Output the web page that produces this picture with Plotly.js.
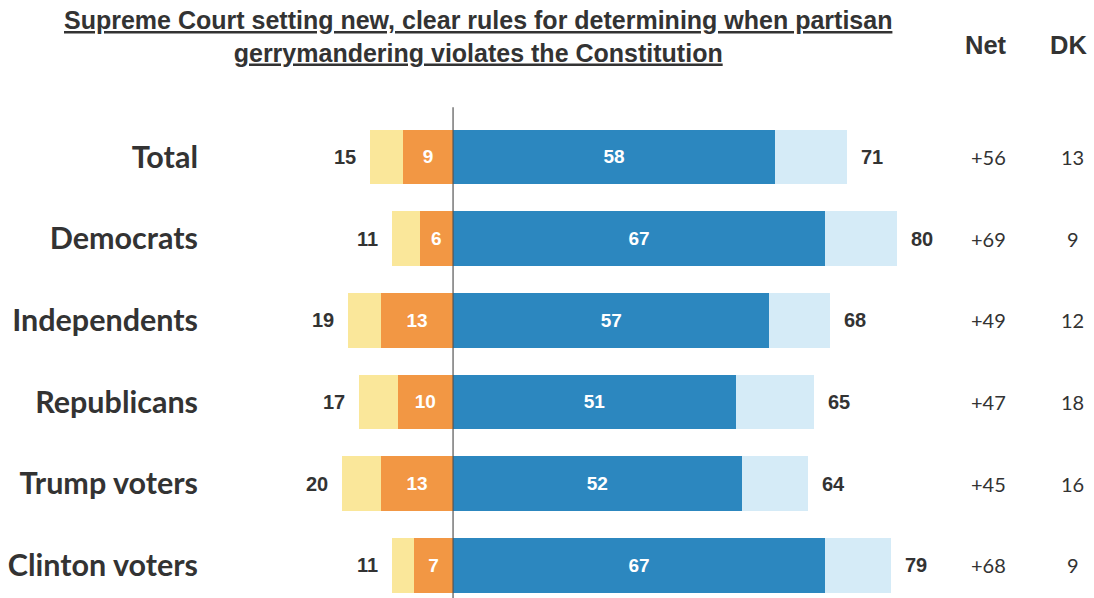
<!DOCTYPE html>
<html>
<head>
<meta charset="utf-8">
<script src="https://cdn.plot.ly/plotly-3.0.1.min.js"></script>
<style>html,body{margin:0;padding:0;background:#fff;}#chart{width:1094px;height:598px;}</style>
</head>
<body>
<div id="chart"></div>
<script>
const categories = ["Total", "Democrats", "Independents", "Republicans", "Trump voters", "Clinton voters"];
const strongOppose = [9, 6, 13, 10, 13, 7];
const totalOppose = [15, 11, 19, 17, 20, 11];
const strongSupport = [58, 67, 57, 51, 52, 67];
const totalSupport = [71, 80, 68, 65, 64, 79];
const netValues = ["+56", "+69", "+49", "+47", "+45", "+68"];
const dkValues = [13, 9, 12, 18, 16, 9];
const titleText = "Supreme Court setting new, clear rules for determining when partisan<br>gerrymandering violates the Constitution";

const yIdx = categories.map((c, i) => i);
const restOppose = totalOppose.map((t, i) => t - strongOppose[i]);
const restSupport = totalSupport.map((t, i) => t - strongSupport[i]);

const W = 1094, H = 598, ML = 205, MT = 112;
const C = {
  yellow: "#FAE79A",
  orange: "#F29744",
  blue: "#2C87BF",
  light: "#D5EBF7",
  text: "#333333"
};
const barW = 0.67;
const inFont = {family: "Liberation Sans, Arial, sans-serif", size: 19, color: "#ffffff", weight: 700};

const traces = [
  {type: "bar", orientation: "h", y: yIdx, x: strongOppose.map(v => -v), width: barW,
   marker: {color: C.orange}, text: strongOppose.map(String), texttemplate: "%{text}",
   textposition: "inside", insidetextanchor: "middle", textangle: 0, constraintext: "none",
   textfont: inFont, hoverinfo: "skip"},
  {type: "bar", orientation: "h", y: yIdx, x: restOppose.map(v => -v), width: barW,
   marker: {color: C.yellow}, hoverinfo: "skip"},
  {type: "bar", orientation: "h", y: yIdx, x: strongSupport, width: barW,
   marker: {color: C.blue}, text: strongSupport.map(String), texttemplate: "%{text}",
   textposition: "inside", insidetextanchor: "middle", textangle: 0, constraintext: "none",
   textfont: inFont, hoverinfo: "skip"},
  {type: "bar", orientation: "h", y: yIdx, x: restSupport, width: barW,
   marker: {color: C.light}, hoverinfo: "skip"}
];

const sideFont = {family: "Liberation Sans, Arial, sans-serif", size: 20, color: C.text, weight: 700};
const colFont = {family: "Lato, sans-serif", size: 20, color: C.text};
const headFont = {family: "Liberation Sans, Arial, sans-serif", size: 25.5, color: C.text, weight: 700};
const titleFont = {family: "Liberation Sans, Arial, sans-serif", size: 25, color: C.text, weight: 700, lineposition: "under"};

// pixel helpers for the header row (outside the plot area)
const plotH = H - MT;
const pyToPaper = py => (H - py) / plotH;
const pxToPaper = px => (px - ML) / (W - ML);

const annotations = [];
yIdx.forEach(i => {
  annotations.push({x: -totalOppose[i], y: i, xref: "x", yref: "y", text: String(totalOppose[i]),
    showarrow: false, xanchor: "right", yanchor: "middle", xshift: -12, font: sideFont});
  annotations.push({x: totalSupport[i], y: i, xref: "x", yref: "y", text: String(totalSupport[i]),
    showarrow: false, xanchor: "left", yanchor: "middle", xshift: 12, font: sideFont});
  annotations.push({x: 96.4, y: i, xref: "x", yref: "y", text: netValues[i],
    showarrow: false, xanchor: "center", yanchor: "middle", font: colFont});
  annotations.push({x: 111.7, y: i, xref: "x", yref: "y", text: String(dkValues[i]),
    showarrow: false, xanchor: "center", yanchor: "middle", font: colFont});
});
annotations.push({x: 96.0, y: pyToPaper(45), xref: "x", yref: "paper", xanchor: "center", yanchor: "middle",
  text: "Net", showarrow: false, font: headFont});
annotations.push({x: 110.9, y: pyToPaper(45), xref: "x", yref: "paper", xanchor: "center", yanchor: "middle",
  text: "DK", showarrow: false, font: headFont});
annotations.push({x: pxToPaper(478), y: pyToPaper(36), xref: "paper", yref: "paper", xanchor: "center", yanchor: "middle",
  text: titleText, showarrow: false, align: "center", font: titleFont});

const layout = {
  width: W, height: H,
  margin: {l: ML, r: 0, t: MT, b: 0},
  paper_bgcolor: "#ffffff", plot_bgcolor: "#ffffff",
  barmode: "relative", bargap: 0,
  showlegend: false,
  xaxis: {range: [-44.7, 115.5], showgrid: false, zeroline: false, showticklabels: false, showline: false, fixedrange: true},
  yaxis: {range: [5.4, -0.55], tickvals: yIdx, ticktext: categories, showgrid: false, zeroline: false, showline: false,
    ticks: "", ticklabelstandoff: 6, tickfont: {family: "Lato, sans-serif", size: 30.5, color: C.text, weight: 700}, fixedrange: true},
  shapes: [{type: "line", xref: "x", yref: "paper", x0: 0, x1: 0, y0: 0, y1: 1.01,
    line: {color: "#555555", width: 1.2}}],
  annotations: annotations
};

Plotly.newPlot("chart", traces, layout, {displayModeBar: false, staticPlot: true});
</script>
</body>
</html>
